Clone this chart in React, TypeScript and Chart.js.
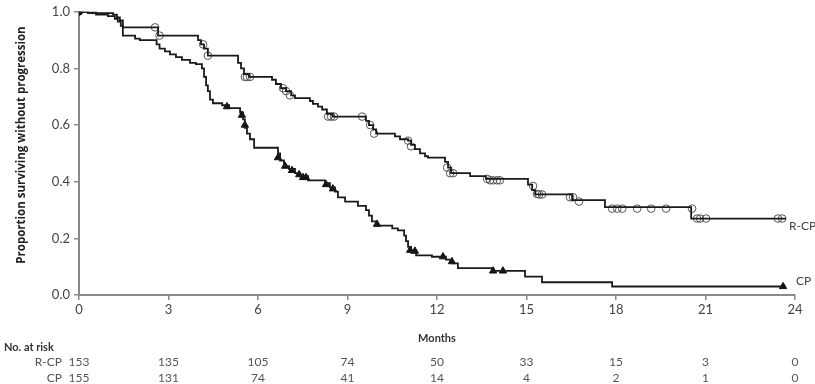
import React, { useEffect, useRef } from "react";
import { Chart, registerables } from "chart.js";
Chart.register(...registerables);

const monthTicks = [0, 3, 6, 9, 12, 15, 18, 21, 24];
const rcpRisk = [153, 135, 105, 74, 50, 33, 15, 3, 0];
const cpRisk = [155, 131, 74, 41, 14, 4, 2, 1, 0];

const rcpStepMonths = [0, 0.3, 1.14, 1.27, 1.37, 1.47, 2.65, 3.99, 4.09, 4.19, 4.32, 5.33, 5.43, 5.53, 5.7, 6.47, 6.6, 6.77, 6.94, 7.11, 7.24, 7.74, 7.84, 8.01, 8.15, 8.31, 8.51, 9.62, 9.72, 9.86, 9.96, 10.59, 10.76, 11.03, 11.13, 11.26, 11.43, 11.6, 11.7, 12.27, 12.37, 12.47, 13.11, 13.64, 15.05, 15.19, 15.29, 16.53, 17.63, 20.52, 23.7];
const rcpStepValues = [1.0, 0.995, 0.99, 0.98, 0.97, 0.945, 0.916, 0.9, 0.885, 0.87, 0.845, 0.82, 0.8, 0.78, 0.77, 0.76, 0.745, 0.73, 0.72, 0.705, 0.695, 0.685, 0.675, 0.665, 0.655, 0.64, 0.63, 0.615, 0.6, 0.585, 0.57, 0.56, 0.55, 0.545, 0.53, 0.515, 0.5, 0.49, 0.485, 0.47, 0.45, 0.43, 0.42, 0.41, 0.39, 0.37, 0.355, 0.335, 0.31, 0.27, 0.27];

const rcpCensorMonths = [2.55, 2.7, 4.16, 4.32, 5.56, 5.63, 5.73, 6.84, 6.94, 7.07, 8.35, 8.45, 8.55, 9.49, 9.76, 9.89, 11.03, 11.13, 12.34, 12.44, 12.54, 13.68, 13.78, 13.88, 14.01, 14.11, 15.22, 15.35, 15.42, 15.52, 16.46, 16.56, 16.76, 17.87, 18.04, 18.21, 18.71, 19.18, 19.68, 20.55, 20.72, 20.82, 21.02, 23.43, 23.57];
const rcpCensorValues = [0.945, 0.916, 0.885, 0.845, 0.77, 0.77, 0.77, 0.73, 0.72, 0.705, 0.63, 0.63, 0.63, 0.63, 0.6, 0.57, 0.545, 0.525, 0.45, 0.43, 0.43, 0.41, 0.405, 0.405, 0.405, 0.405, 0.385, 0.357, 0.355, 0.355, 0.345, 0.345, 0.33, 0.305, 0.305, 0.305, 0.305, 0.305, 0.305, 0.305, 0.27, 0.27, 0.27, 0.27, 0.27];

const cpStepMonths = [0, 0.57, 0.97, 1.2, 1.3, 1.4, 1.47, 1.88, 2.04, 2.6, 2.7, 2.88, 3.05, 3.25, 3.45, 3.72, 3.92, 4.12, 4.19, 4.26, 4.32, 4.39, 4.49, 4.8, 5.03, 5.4, 5.5, 5.56, 5.63, 5.73, 5.87, 6.67, 6.74, 6.87, 7.04, 7.24, 7.41, 7.68, 8.25, 8.41, 8.58, 8.68, 8.92, 9.35, 9.62, 9.72, 9.82, 9.96, 10.5, 10.69, 10.9, 10.96, 11.03, 11.13, 11.3, 11.83, 12.3, 12.5, 12.7, 13.85, 14.95, 15.52, 17.87, 23.6];
const cpStepValues = [1.0, 0.99, 0.985, 0.975, 0.965, 0.95, 0.916, 0.905, 0.9, 0.885, 0.87, 0.86, 0.85, 0.84, 0.83, 0.82, 0.815, 0.8, 0.77, 0.74, 0.72, 0.69, 0.677, 0.67, 0.66, 0.645, 0.62, 0.59, 0.57, 0.55, 0.52, 0.5, 0.475, 0.455, 0.445, 0.43, 0.42, 0.405, 0.395, 0.38, 0.365, 0.345, 0.33, 0.315, 0.3, 0.28, 0.26, 0.245, 0.235, 0.228, 0.21, 0.19, 0.17, 0.15, 0.14, 0.135, 0.125, 0.112, 0.095, 0.085, 0.065, 0.045, 0.03, 0.03];

const cpCensorMonths = [4.96, 5.46, 5.56, 6.67, 6.91, 7.14, 7.38, 7.51, 7.61, 8.28, 8.51, 9.99, 11.1, 11.26, 12.2, 12.5, 13.88, 14.21, 23.6];
const cpCensorValues = [0.665, 0.635, 0.6, 0.485, 0.455, 0.44, 0.425, 0.415, 0.415, 0.39, 0.375, 0.25, 0.158, 0.155, 0.135, 0.118, 0.085, 0.085, 0.03];

const FONT = "Lato, 'Open Sans', sans-serif";
const Y_TITLE = "Proportion surviving without progression";

const toPts = (xs: number[], ys: number[]) => xs.map((x, i) => ({ x, y: ys[i] }));

const annotPlugin = {
  id: "annot",
  afterDraw(chart: any) {
    const ctx = chart.ctx;
    const xs = chart.scales.x;
    ctx.save();
    ctx.fillStyle = "#222";
    ctx.textBaseline = "middle";
    ctx.translate(22, 145);
    ctx.rotate(-Math.PI / 2);
    ctx.textAlign = "center";
    ctx.font = `bold 11.5px 'Open Sans', sans-serif`;
    ctx.fillText(Y_TITLE, 0, 0);
    ctx.restore();

    ctx.save();
    ctx.fillStyle = "#333";
    ctx.textBaseline = "middle";
    ctx.font = `bold 11px ${FONT}`;
    ctx.textAlign = "center";
    ctx.fillText("Months", xs.getPixelForValue(12), 338);
    ctx.textAlign = "left";
    ctx.fillText("No. at risk", 4, 347);
    ctx.font = `12px ${FONT}`;
    ctx.fillStyle = "#555";
    ctx.textAlign = "right";
    ctx.fillText("R-CP", 62, 362);
    ctx.fillText("CP", 62, 378);
    ctx.textAlign = "center";
    monthTicks.forEach((t, i) => {
      const px = xs.getPixelForValue(t);
      ctx.fillText(String(rcpRisk[i]), px, 362);
      ctx.fillText(String(cpRisk[i]), px, 378);
    });
    ctx.textAlign = "left";
    ctx.font = `12px ${FONT}`;
    ctx.fillStyle = "#444";
    ctx.fillText("R-CP", 789, 226);
    ctx.fillText("CP", 796, 281);
    ctx.restore();
  },
};

export default function App() {
  const ref = useRef<HTMLCanvasElement>(null);
  useEffect(() => {
    document.body.style.margin = "0";
    const chart = new Chart(ref.current!, {
      type: "line",
      data: {
        datasets: [
          {
            data: toPts(rcpStepMonths, rcpStepValues),
            stepped: true,
            borderColor: "#1a1a1a",
            borderWidth: 1.8,
            pointRadius: 0,
            fill: false,
          },
          {
            data: toPts(cpStepMonths, cpStepValues),
            stepped: true,
            borderColor: "#1a1a1a",
            borderWidth: 1.8,
            pointRadius: 0,
            fill: false,
          },
          {
            data: toPts(rcpCensorMonths, rcpCensorValues),
            showLine: false,
            pointStyle: "circle",
            pointRadius: 3.8,
            pointBackgroundColor: "rgba(255,255,255,0)",
            pointBorderColor: "#555",
            pointBorderWidth: 1,
          },
          {
            data: toPts(cpCensorMonths, cpCensorValues),
            showLine: false,
            pointStyle: "triangle",
            pointRadius: 4.2,
            pointBackgroundColor: "#111",
            pointBorderColor: "#111",
            pointBorderWidth: 1,
          },
          {
            data: [{ x: 0, y: 1 }],
            showLine: false,
            pointStyle: "circle",
            pointRadius: 3.5,
            pointBackgroundColor: "#111",
            pointBorderColor: "#111",
          },
        ],
      },
      options: {
        animation: false,
        responsive: false,
        layout: { padding: { left: 0, right: 20, top: 10, bottom: 0 } },
        plugins: { legend: { display: false }, tooltip: { enabled: false } },
        scales: {
          x: {
            type: "linear",
            min: 0,
            max: 24,
            afterFit: (s: any) => {
              s.height = 89;
            },
            ticks: {
              stepSize: 3,
              color: "#444",
              font: { family: FONT, size: 13 },
              padding: 2,
              maxRotation: 0,
            },
            grid: { drawOnChartArea: false, tickLength: 5, color: "#8a8a8a", lineWidth: 1.5 },
            border: { color: "#8a8a8a", width: 2 },
          },
          y: {
            min: 0,
            max: 1,
            afterFit: (s: any) => {
              s.width = 79;
            },
            ticks: {
              stepSize: 0.2,
              color: "#444",
              font: { family: FONT, size: 13 },
              padding: 4,
              callback: (v: any) => Number(v).toFixed(1),
            },
            grid: { drawOnChartArea: false, tickLength: 5, color: "#8a8a8a", lineWidth: 1.5 },
            border: { color: "#8a8a8a", width: 2 },
          },
        },
      },
      plugins: [annotPlugin],
    });
    return () => chart.destroy();
  }, []);
  return (
    <div style={{ width: 815, height: 384 }}>
      <canvas ref={ref} width={815} height={384} />
    </div>
  );
}
